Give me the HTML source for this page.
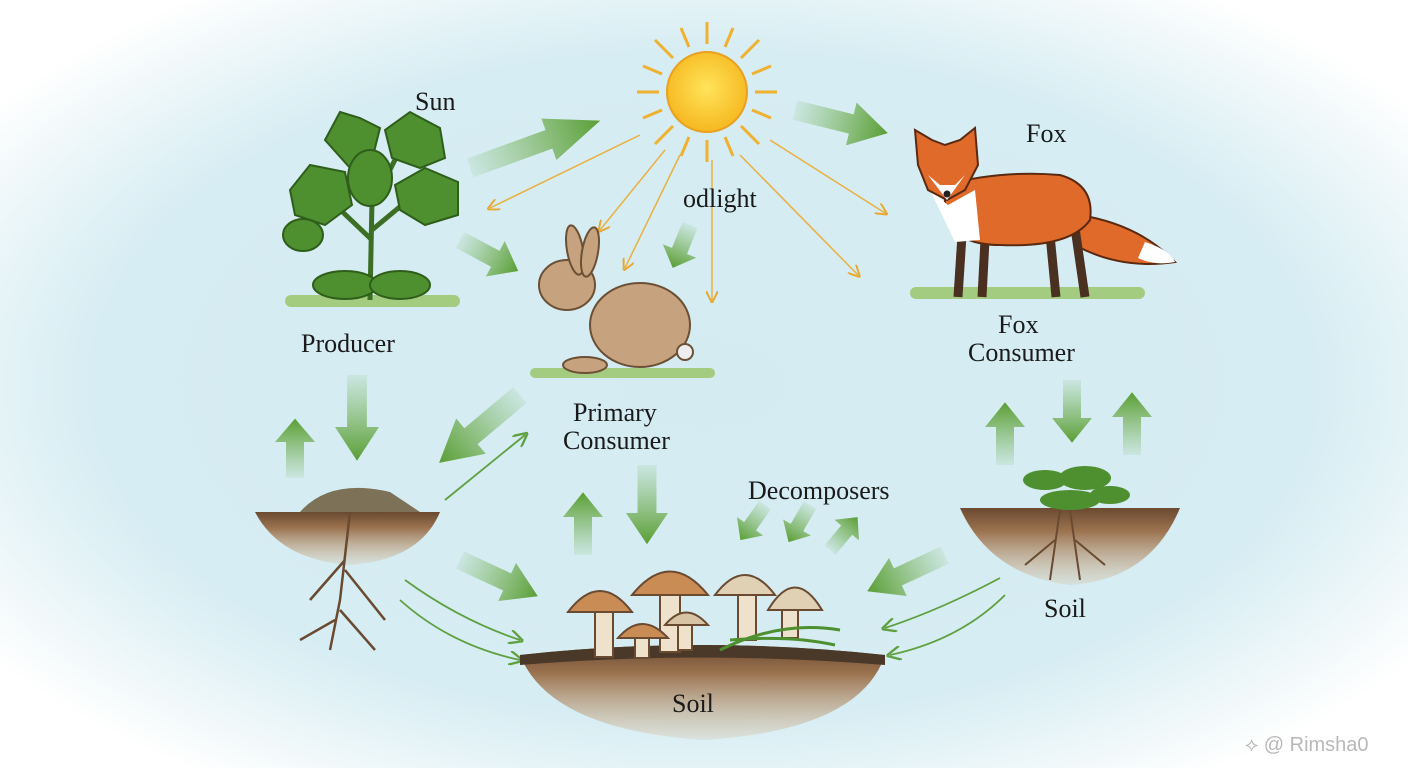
<!DOCTYPE html>
<html><head><meta charset="utf-8"><style>
html,body{margin:0;padding:0;width:1408px;height:768px;overflow:hidden;background:#fff}
svg{display:block}
text{font-family:"Liberation Serif",serif;fill:#1a1a1a}
</style></head><body>
<svg width="1408" height="768" viewBox="0 0 1408 768" xmlns="http://www.w3.org/2000/svg">
<defs>
<radialGradient id="bg" cx="50%" cy="50%" r="62%">
<stop offset="0" stop-color="#d3ebf1"/><stop offset="0.7" stop-color="#d6edf3"/><stop offset="0.88" stop-color="#eef7f9"/><stop offset="1" stop-color="#ffffff"/>
</radialGradient>
<radialGradient id="sun" cx="50%" cy="45%" r="55%"><stop offset="0" stop-color="#ffe45a"/><stop offset="1" stop-color="#f6b820"/></radialGradient>
<linearGradient id="ga" x1="0" x2="1"><stop offset="0" stop-color="#6fae48" stop-opacity="0.1"/><stop offset="1" stop-color="#5a9e35"/></linearGradient>
<linearGradient id="soil" x1="0" y1="0" x2="0" y2="1"><stop offset="0" stop-color="#6b4a30"/><stop offset="0.3" stop-color="#9b7350"/><stop offset="1" stop-color="#d8c2a4" stop-opacity="0.3"/></linearGradient>
<g id="arr"><path d="M0,-9 L40,-9 L40,-20 L66,0 L40,20 L40,9 L0,9 Z" fill="url(#ga)"/></g>
<marker id="ah" markerWidth="8" markerHeight="8" refX="6" refY="4" orient="auto"><path d="M0,0 L8,4 L0,8" fill="none" stroke="#e8a830" stroke-width="1.3"/></marker>
<marker id="gh" markerWidth="8" markerHeight="8" refX="6" refY="4" orient="auto"><path d="M0,0 L8,4 L0,8" fill="none" stroke="#5fa040" stroke-width="1.3"/></marker>
</defs>
<rect width="1408" height="768" fill="url(#bg)"/>

<g stroke="#f0b030" stroke-width="3">
<g transform="translate(707,92)">
<line x1="0" y1="-48" x2="0" y2="-70"/><line x1="0" y1="48" x2="0" y2="70"/><line x1="-48" y1="0" x2="-70" y2="0"/><line x1="48" y1="0" x2="70" y2="0"/>
<line x1="34" y1="34" x2="52" y2="52"/><line x1="-34" y1="34" x2="-52" y2="52"/><line x1="34" y1="-34" x2="52" y2="-52"/><line x1="-34" y1="-34" x2="-52" y2="-52"/>
<line x1="18" y1="-45" x2="26" y2="-64"/><line x1="-18" y1="-45" x2="-26" y2="-64"/><line x1="18" y1="45" x2="26" y2="64"/><line x1="-18" y1="45" x2="-26" y2="64"/>
<line x1="45" y1="18" x2="64" y2="26"/><line x1="-45" y1="18" x2="-64" y2="26"/><line x1="45" y1="-18" x2="64" y2="-26"/><line x1="-45" y1="-18" x2="-64" y2="-26"/>
</g></g>
<circle cx="707" cy="92" r="40" fill="url(#sun)" stroke="#eaa020" stroke-width="2"/>
<g stroke="#eab040" stroke-width="1.5" fill="none" marker-end="url(#ah)">
<line x1="640" y1="135" x2="490" y2="208"/><line x1="665" y1="150" x2="600" y2="230"/>
<line x1="680" y1="155" x2="625" y2="268"/><line x1="712" y1="160" x2="712" y2="300"/>
<line x1="740" y1="155" x2="858" y2="275"/><line x1="770" y1="140" x2="885" y2="213"/>
</g>

<use href="#arr" transform="translate(470,168) rotate(-20) scale(2.1,1.1)"/>
<use href="#arr" transform="translate(795,110) rotate(14) scale(1.45,1.1)"/>
<use href="#arr" transform="translate(460,240) rotate(28) scale(1,1)"/>
<use href="#arr" transform="translate(690,225) rotate(112) scale(0.7,0.9)"/>
<use href="#arr" transform="translate(357,375) rotate(90) scale(1.3,1.1)"/>
<use href="#arr" transform="translate(295,478) rotate(-90) scale(0.9,1)"/>
<use href="#arr" transform="translate(520,395) rotate(140) scale(1.6,1.15)"/>
<use href="#arr" transform="translate(460,560) rotate(25) scale(1.3,1.05)"/>
<use href="#arr" transform="translate(583,555) rotate(-90) scale(0.95,1)"/>
<use href="#arr" transform="translate(647,465) rotate(90) scale(1.2,1.05)"/>
<use href="#arr" transform="translate(765,505) rotate(125) scale(0.65,0.8)"/>
<use href="#arr" transform="translate(810,505) rotate(120) scale(0.65,0.8)"/>
<use href="#arr" transform="translate(830,550) rotate(-50) scale(0.65,0.8)"/>
<use href="#arr" transform="translate(945,555) rotate(155) scale(1.3,1.05)"/>
<use href="#arr" transform="translate(1005,465) rotate(-90) scale(0.95,1)"/>
<use href="#arr" transform="translate(1072,380) rotate(90) scale(0.95,1)"/>
<use href="#arr" transform="translate(1132,455) rotate(-90) scale(0.95,1)"/>
<g stroke="#5fa040" stroke-width="1.8" fill="none" marker-end="url(#gh)">
<path d="M445,500 L525,435"/><path d="M405,580 Q460,620 520,640"/><path d="M400,600 Q450,645 520,660"/>
<path d="M1000,578 Q940,610 885,628"/><path d="M1005,595 Q960,640 890,655"/>
</g>

<!-- plant -->
<g>
<rect x="285" y="295" width="175" height="12" rx="6" fill="#8fbf50" opacity="0.7"/>
<path d="M370,300 L372,200 M372,240 L330,200 M372,230 L420,190 M372,200 L350,150 M372,205 L400,150" stroke="#3d6e25" stroke-width="5" fill="none"/>
<g fill="#4e8f30" stroke="#2e5e1a" stroke-width="2">
<path d="M325,140 L340,112 L360,118 L380,128 L372,160 L350,168 Z"/>
<path d="M385,130 L410,112 L440,128 L445,158 L420,168 L392,158 Z"/>
<path d="M290,190 L310,165 L345,172 L352,205 L325,225 L295,215 Z"/>
<path d="M395,185 L425,168 L458,182 L458,215 L425,225 L400,210 Z"/>
<ellipse cx="370" cy="178" rx="22" ry="28"/><ellipse cx="303" cy="235" rx="20" ry="16"/>
<ellipse cx="345" cy="285" rx="32" ry="14"/><ellipse cx="400" cy="285" rx="30" ry="14"/>
</g></g>

<!-- rabbit -->
<g fill="#c7a27f" stroke="#6b5035" stroke-width="2">
<rect x="530" y="368" width="185" height="10" rx="5" fill="#8fbf50" stroke="none" opacity="0.7"/>
<ellipse cx="640" cy="325" rx="50" ry="42"/>
<ellipse cx="567" cy="285" rx="28" ry="25"/>
<ellipse cx="575" cy="250" rx="8" ry="25" transform="rotate(-10 575 250)"/>
<ellipse cx="590" cy="252" rx="8" ry="25" transform="rotate(10 590 252)"/>
<ellipse cx="585" cy="365" rx="22" ry="8"/><ellipse cx="685" cy="352" rx="8" ry="8" fill="#eee"/>
</g>

<!-- fox -->
<g>
<rect x="910" y="287" width="235" height="12" rx="6" fill="#8fbf50" opacity="0.7"/>
<path d="M1080,215 Q1140,225 1175,262 Q1120,270 1075,245Z" fill="#e06a2a" stroke="#5a2a10" stroke-width="2"/>
<path d="M1145,242 Q1170,250 1175,262 Q1155,266 1138,258Z" fill="#fff"/>
<g stroke="#4a3020" stroke-width="9"><line x1="962" y1="235" x2="958" y2="297"/><line x1="985" y1="240" x2="982" y2="297"/><line x1="1050" y1="235" x2="1056" y2="297"/><line x1="1075" y1="228" x2="1085" y2="297"/></g>
<path d="M945,185 Q1000,170 1060,175 Q1095,185 1090,220 Q1070,248 1000,245 Q955,245 945,215Z" fill="#e06a2a" stroke="#5a2a10" stroke-width="2"/>
<path d="M930,190 L948,205 L975,190 L980,240 L955,242 Z" fill="#fff"/>
<path d="M915,130 L932,140 L945,145 L960,140 L975,128 L978,165 L965,190 L947,200 L928,190 L918,165Z" fill="#e06a2a" stroke="#5a2a10" stroke-width="2"/>
<path d="M928,175 L947,200 L965,175 L955,185 L940,185Z" fill="#fff"/>
<circle cx="947" cy="194" r="3.5" fill="#222"/>
</g>

<!-- soil left -->
<path d="M255,512 L440,512 Q420,560 350,565 Q280,560 255,512Z" fill="url(#soil)"/>
<path d="M300,512 Q330,478 390,492 L420,512Z" fill="#7d7258"/>
<g stroke="#6a4a30" stroke-width="2.5" fill="none"><path d="M350,512 L340,600 L330,650 M345,560 L310,600 M345,570 L385,620 M335,620 L300,640 M340,610 L375,650"/></g>
<!-- soil right -->
<path d="M960,508 L1180,508 Q1150,580 1070,585 Q990,575 960,508Z" fill="url(#soil)"/>
<g fill="#4e8f30"><ellipse cx="1045" cy="480" rx="22" ry="10"/><ellipse cx="1085" cy="478" rx="26" ry="12"/><ellipse cx="1070" cy="500" rx="30" ry="10"/><ellipse cx="1110" cy="495" rx="20" ry="9"/></g>
<g stroke="#6a4a30" stroke-width="2" fill="none"><path d="M1060,510 L1050,580 M1070,510 L1080,580 M1055,540 L1025,565 M1075,540 L1105,565"/></g>
<!-- soil bottom -->
<path d="M520,655 Q700,635 885,655 Q860,730 705,740 Q550,730 520,655Z" fill="url(#soil)"/>
<path d="M520,655 Q700,635 885,655 L885,665 Q700,650 520,665Z" fill="#4a3828"/>
<g stroke="#6a4a30" stroke-width="2">
<rect x="595" y="605" width="18" height="52" fill="#eee2cc"/><path d="M568,612 Q600,570 632,612Z" fill="#c98c55"/>
<rect x="660" y="590" width="20" height="62" fill="#eee2cc"/><path d="M632,595 Q670,548 708,595Z" fill="#c98c55"/>
<rect x="635" y="630" width="14" height="28" fill="#eee2cc"/><path d="M618,638 Q642,610 668,638Z" fill="#c98c55"/>
<rect x="678" y="620" width="14" height="30" fill="#eee2cc"/><path d="M665,625 Q686,600 708,625Z" fill="#d8c4a4"/>
<rect x="738" y="590" width="18" height="50" fill="#eee2cc"/><path d="M715,595 Q745,555 775,595Z" fill="#e0d0b4"/>
<rect x="782" y="598" width="16" height="40" fill="#eee2cc"/><path d="M768,610 Q795,565 822,610Z" fill="#e0d0b4"/>
</g>
<g stroke="#4e8f30" stroke-width="3" fill="none"><path d="M720,650 Q780,620 840,630 M730,640 Q790,635 835,645"/></g>

<g font-size="26">
<text x="415" y="110">Sun</text>
<text x="683" y="207">odlight</text>
<text x="1026" y="142">Fox</text>
<text x="301" y="352">Producer</text>
<text x="573" y="421">Primary</text>
<text x="563" y="449">Consumer</text>
<text x="998" y="333">Fox</text>
<text x="968" y="361">Consumer</text>
<text x="748" y="499">Decomposers</text>
<text x="1044" y="617">Soil</text>
<text x="672" y="712">Soil</text>
</g>
<text x="1245" y="751" font-size="20" style="font-family:'Liberation Sans',sans-serif;fill:#b8b8b8">⟡ @ Rimsha0</text>
</svg>
</body></html>
